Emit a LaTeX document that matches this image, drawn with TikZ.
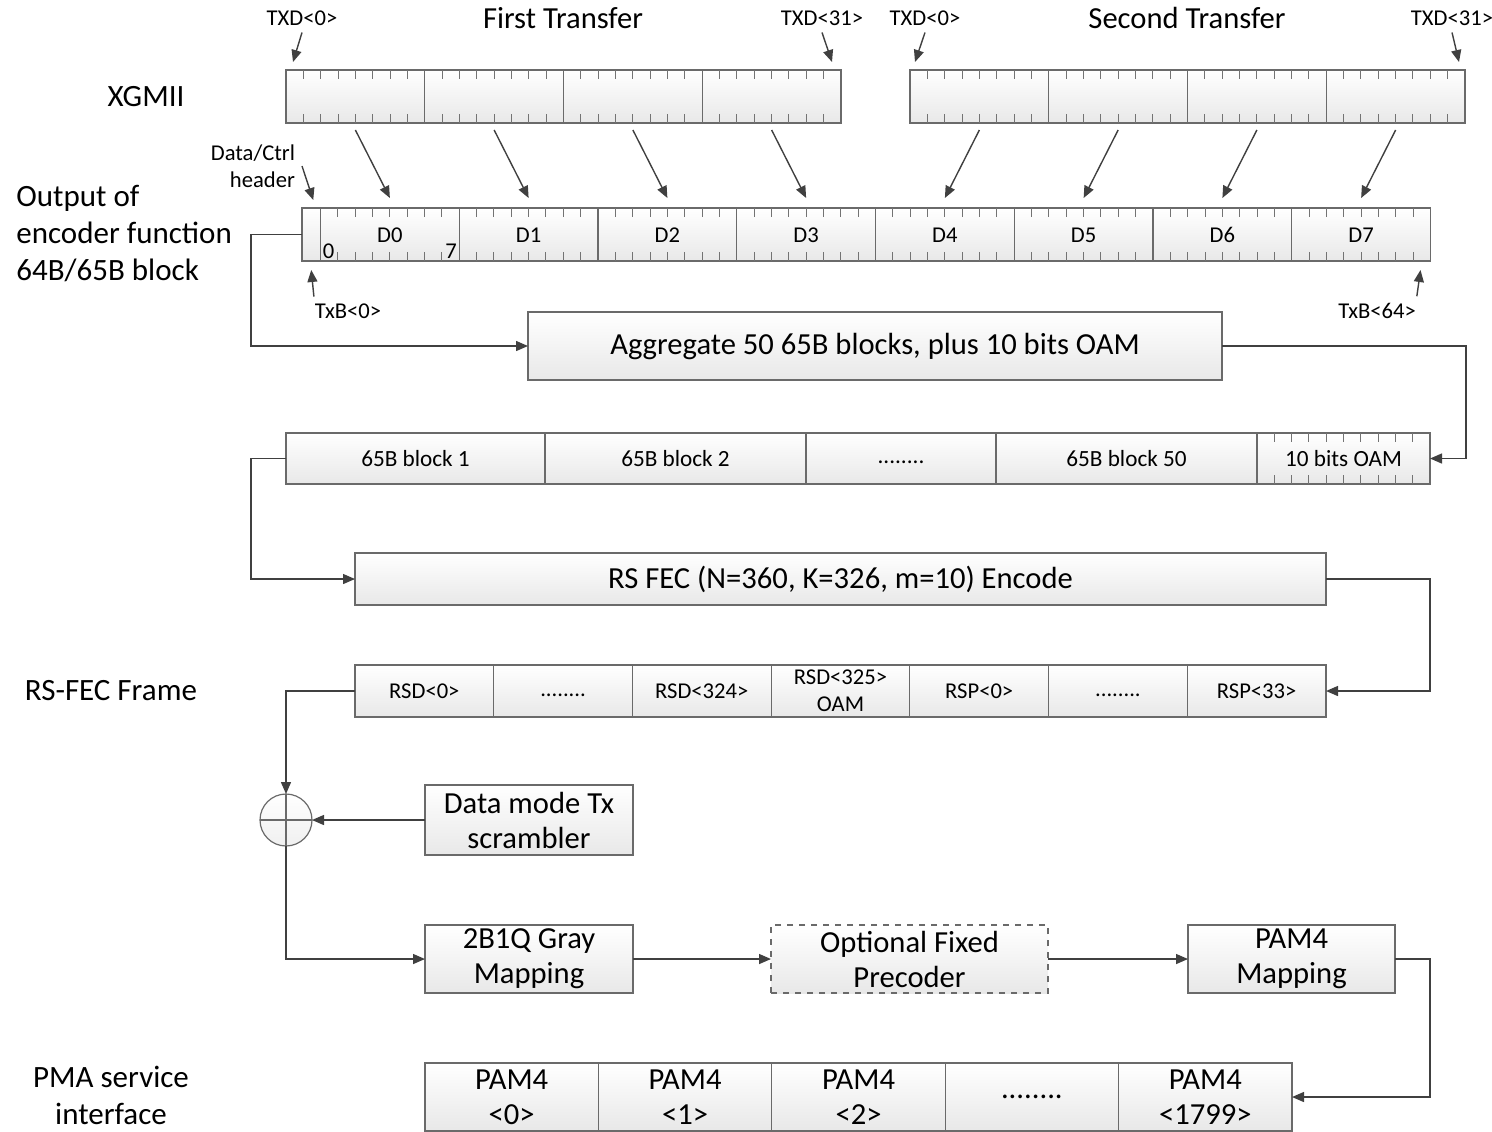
\documentclass[tikz,border=0pt]{standalone}
\usepackage{fontspec}
\setmainfont{Carlito}
\usepackage{xcolor}
\usepackage{tikz}
\usetikzlibrary{arrows.meta}
\usetikzlibrary{calc}
\usetikzlibrary{positioning}
\definecolor{dunkel}{HTML}{404040}
\definecolor{rahmen}{HTML}{6A6A6A}
\newcommand{\gross}{\fontsize{15.5}{18.5}\selectfont}
\newcommand{\mittel}{\fontsize{15.3}{17.5}\selectfont}
\newcommand{\klein}{\fontsize{11.3}{13.5}\selectfont}
\newcommand{\punkte}{\vphantom{Ag}........}
\newcommand{\nurpunkte}{........}
\tikzset{
  Zelle/.style={draw=rahmen, line width=.6pt, top color=white, bottom color=black!9,
    inner sep=0pt, outer sep=0pt, align=center, font=\klein}, % Registerfelder
  Kasten/.style={Zelle, font=\mittel}, % Funktionsbloecke
  Pfeil/.style={draw=dunkel, line width=.7pt, ->}, % fuer Pfeile
  Strich/.style={draw=black!55, line width=.5pt} % Bitmarken
}

\begin{document}
\begin{tikzpicture}[x=.5pt, y=-.5pt,
>={Triangle[length=6pt,width=5pt]} % Voreinstellung fuer Pfeilspitzen
]
\useasboundingbox (0,0) rectangle (1492,1131);

%Beschriftungen links
\node[font=\gross] (lXGMII) at (146,97) {XGMII};
\node[font=\gross, align=left, anchor=west, inner sep=0pt] (lEnc) at (16,234) {Output of\\encoder function\\64B/65B block};
\node[font=\gross] (lFrame) at (111,691) {RS-FEC Frame};
\node[font=\gross, align=center] (lPMA) at (111,1095) {PMA service\\interface};

%XGMII
\node[font=\mittel] (tErst) at (563,18) {First Transfer};
\node[font=\mittel] (tZweit) at (1187,18) {Second Transfer};
\foreach \i in {1,...,4}{
  \node[Zelle, minimum width=69.375pt, minimum height=26.5pt] (A\i) at (286+138.75*\i-69.375,96.5) {};
}
\foreach \i in {5,...,8}{
  \node[Zelle, minimum width=69.375pt, minimum height=26.5pt] (A\i) at (910+138.75*\i-624.375,96.5) {};
}
\foreach \i in {1,...,8}
  \foreach \k in {1,...,7}{
    \draw[Strich] ($(A\i.north west)+(17.34*\k,0)$) -- ++(0,9);
    \draw[Strich] ($(A\i.south west)+(17.34*\k,0)$) -- ++(0,-9);
  }

%Encoder Block
\node[Zelle, minimum width=9.25pt, minimum height=26.5pt] (H) at (311.25,234.5) {};
\foreach \i in {0,...,7}{
  \node[Zelle, minimum width=69.375pt, minimum height=26.5pt] (D\i) at (320.5+138.75*\i+69.375,234.5) {\vphantom{D6}D\i};
  \foreach \k in {1,...,7}{
    \draw[Strich] ($(D\i.north west)+(17.34*\k,0)$) -- ++(0,9);
    \draw[Strich] ($(D\i.south west)+(17.34*\k,0)$) -- ++(0,-9);
  }
}
\node[font=\klein, anchor=south west, inner sep=1pt] (b0) at (D0.south west) {0};
\node[font=\klein, anchor=south east, inner sep=1pt] (b7) at (D0.south east) {7};

%TXD Pfeile
\node[font=\klein] (t0a) at (302,18) {TXD<0>};
\node[font=\klein] (t31a) at (822,18) {TXD<31>};
\node[font=\klein] (t0b) at (925,18) {TXD<0>};
\node[font=\klein] (t31b) at (1452,18) {TXD<31>};
\draw[Pfeil] (t0a.south) -- ([xshift=3.5pt,yshift=4pt]A1.north west);
\draw[Pfeil] (t31a.south) -- ([xshift=-4.5pt,yshift=4pt]A4.north east);
\draw[Pfeil] (t0b.south) -- ([xshift=2.5pt,yshift=4pt]A5.north west);
\draw[Pfeil] (t31b.south) -- ([xshift=-3pt,yshift=4pt]A8.north east);
\foreach \i [evaluate=\i as \j using int(\i-1)] in {1,...,8}
  \draw[Pfeil] ([yshift=-3.5pt]A\i.south) -- ([yshift=5pt]D\j.north);

\node[font=\klein, align=right, anchor=east] (lHdr) at (302,166) {Data/Ctrl\\header};
\draw[Pfeil] (lHdr.east) -- ([xshift=1pt,yshift=4pt]H.north);
\node[font=\klein] (tB0) at (348,311) {TxB<0>};
\node[font=\klein] (tB64) at (1377,311) {TxB<64>};
\draw[Pfeil] ([xshift=3pt]tB0.north west) -- ([yshift=-4.5pt]H.south);
\draw[Pfeil] ([xshift=-3pt]tB64.north east) -- ([xshift=-5pt,yshift=-4.5pt]D7.south east);

%Aggregation
\node[Kasten, minimum width=347pt, minimum height=34pt] (Agg) at (875,346) {Aggregate 50 65B blocks, plus 10 bits OAM};
\foreach \links/\rechts/\txt [count=\i] in {286/545/65B block 1, 545/806/65B block 2, 806/996/\punkte, 996/1257/65B block 50, 1257/1430/10 bits OAM}{
  \pgfmathsetmacro\w{(\rechts-\links)/2}
  \node[Zelle, font=\fontsize{11.6}{13}\selectfont, minimum width=\w pt, minimum height=25.5pt] (B\i) at ({(\links+\rechts)/2},458.5) {\txt};
}
\foreach \k in {1,...,9}{
  \draw[Strich] ($(B5.north west)+(17.3*\k,0)$) -- ++(0,9);
  \draw[Strich] ($(B5.south west)+(17.3*\k,0)$) -- ++(0,-9);
}

%RS FEC
\node[Kasten, minimum width=485.5pt, minimum height=26pt] (RS) at (840.5,579) {RS FEC (N=360, K=326, m=10) Encode};
\foreach \txt [count=\i] in {RSD<0>, \punkte, RSD<324>, {RSD<325>\\OAM}, RSP<0>, \punkte, RSP<33>}
  \node[Zelle, minimum width=69.357pt, minimum height=26pt] (F\i) at (355+138.714*\i-69.357,691) {\txt};

%Verwuerfler und Abbildung
\node[circle, draw=rahmen, line width=.6pt, top color=white, bottom color=black!6,
  minimum size=26pt, inner sep=0pt, outer sep=0pt] (X) at (286,820) {};
\draw[draw=rahmen, line width=.6pt] (X.north) -- (X.south) (X.west) -- (X.east);
\node[Kasten, minimum width=104pt, minimum height=35pt] (Scr) at (529,820) {Data mode Tx\\scrambler};
\node[Kasten, minimum width=104pt, minimum height=34pt] (G) at (529,959) {2B1Q Gray\\Mapping};
\node[Kasten, dashed, minimum width=138.5pt, minimum height=34pt] (P) at (909.5,959) {Optional Fixed\\Precoder};
\node[Kasten, minimum width=103.5pt, minimum height=34pt] (M) at (1291.5,959) {PAM4\\Mapping};

%PMA
\foreach \txt [count=\i] in {{PAM4\\<0>}, {PAM4\\<1>}, {PAM4\\<2>}, \nurpunkte, {PAM4\\<1799>}}
  \node[Kasten, minimum width=86.7pt, minimum height=34pt] (Q\i) at (425+173.4*\i-86.7,1097) {\txt};

%Leitungen
\draw[Pfeil] (H.west) -- ++(-51,0) |- (Agg.west);
\draw[Pfeil] (Agg.east) -- ++(244,0) |- (B5.east);
\draw[Pfeil] (B1.west) -- ++(-35,0) |- (RS.west);
\draw[Pfeil] (RS.east) -- ++(104,0) |- (F7.east);
\draw[Pfeil] (F1.west) -| (X.north);
\draw[Pfeil] (Scr.west) -- (X.east);
\draw[Pfeil] (X.south) |- (G.west);
\draw[Pfeil] (G.east) -- (P.west);
\draw[Pfeil] (P.east) -- (M.west);
\draw[Pfeil] (M.east) -- ++(35,0) |- (Q5.east);

\end{tikzpicture}
\end{document}
